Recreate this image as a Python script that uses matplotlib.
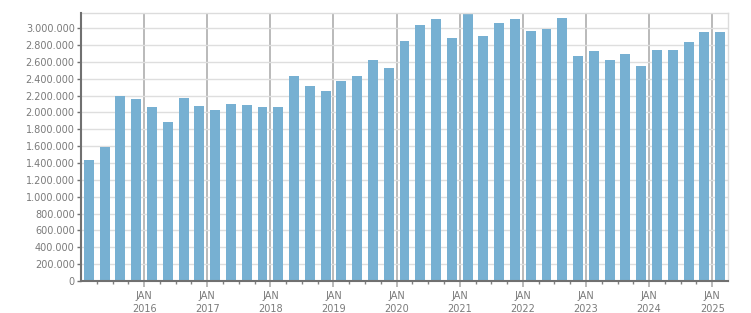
"""Quarterly bar chart, 2015 Q1 - 2025 Q1."""

import numpy as np

import matplotlib
matplotlib.use("Agg")
import matplotlib.pyplot as plt
from matplotlib.ticker import FuncFormatter, FixedLocator

# quarterly values, Q1 2015 .. Q1 2025
values = [
    1435000, 1589000, 2194000, 2158000, 2063000, 1885000, 2170000, 2075000,
    2028000, 2099000, 2087000, 2063000, 2063000, 2431000, 2312000, 2253000,
    2372000, 2431000, 2621000, 2526000, 2846000, 3036000, 3107000, 2881000,
    3166000, 2905000, 3059000, 3107000, 2965000, 2988000, 3119000, 2668000,
    2727000, 2621000, 2692000, 2549000, 2739000, 2739000, 2834000, 2953000,
    2953000,
]
years = list(range(2016, 2026))
year_labels = [f"JAN\n{y}" for y in years]
y_ticks = list(range(0, 3000001, 200000))

BAR = "#77b0d2"
TEXT = "#7a7a7a"

fig = plt.figure(figsize=(7.51, 3.13), dpi=100)
ax = fig.add_axes([81 / 751, 32 / 313, 647 / 751, 268 / 313])

x = np.arange(len(values)) + 0.5
ax.bar(x, values, width=0.63, color=BAR, zorder=2)

ax.set_xlim(0, len(values))
ax.set_ylim(0, 3180000)

# y axis
ax.set_yticks(y_ticks)
ax.yaxis.set_major_formatter(FuncFormatter(lambda v, _: f"{int(v):,}".replace(",", ".")))
ax.grid(axis="y", color="#dedede", linewidth=1.0, zorder=0)
ax.tick_params(axis="y", length=3, width=1, color="#707070", pad=1.5,
               labelsize=7, labelcolor=TEXT)

# x axis: JAN gridlines + quarter minor ticks
major = [4 * (i + 1) for i in range(len(years))]
ax.xaxis.set_major_locator(FixedLocator(major))
ax.set_xticklabels(year_labels, linespacing=1.4)
ax.xaxis.set_minor_locator(FixedLocator([q for q in range(1, len(values)) if q % 4]))
for m in major:
    ax.axvline(m, color="#b4b4b4", linewidth=1.3, zorder=1)
ax.tick_params(axis="x", which="major", length=4, width=1.3, color="#b4b4b4",
               pad=3, labelsize=7, labelcolor=TEXT)
ax.tick_params(axis="x", which="minor", length=2, width=1, color="#808080")

for side in ("left", "bottom"):
    ax.spines[side].set_color("#707070")
    ax.spines[side].set_linewidth(1.5)
    ax.spines[side].set_zorder(3)
for side in ("top", "right"):
    ax.spines[side].set_color("#dcdcdc")
    ax.spines[side].set_linewidth(1.0)

fig.savefig("out.png", dpi=100)
